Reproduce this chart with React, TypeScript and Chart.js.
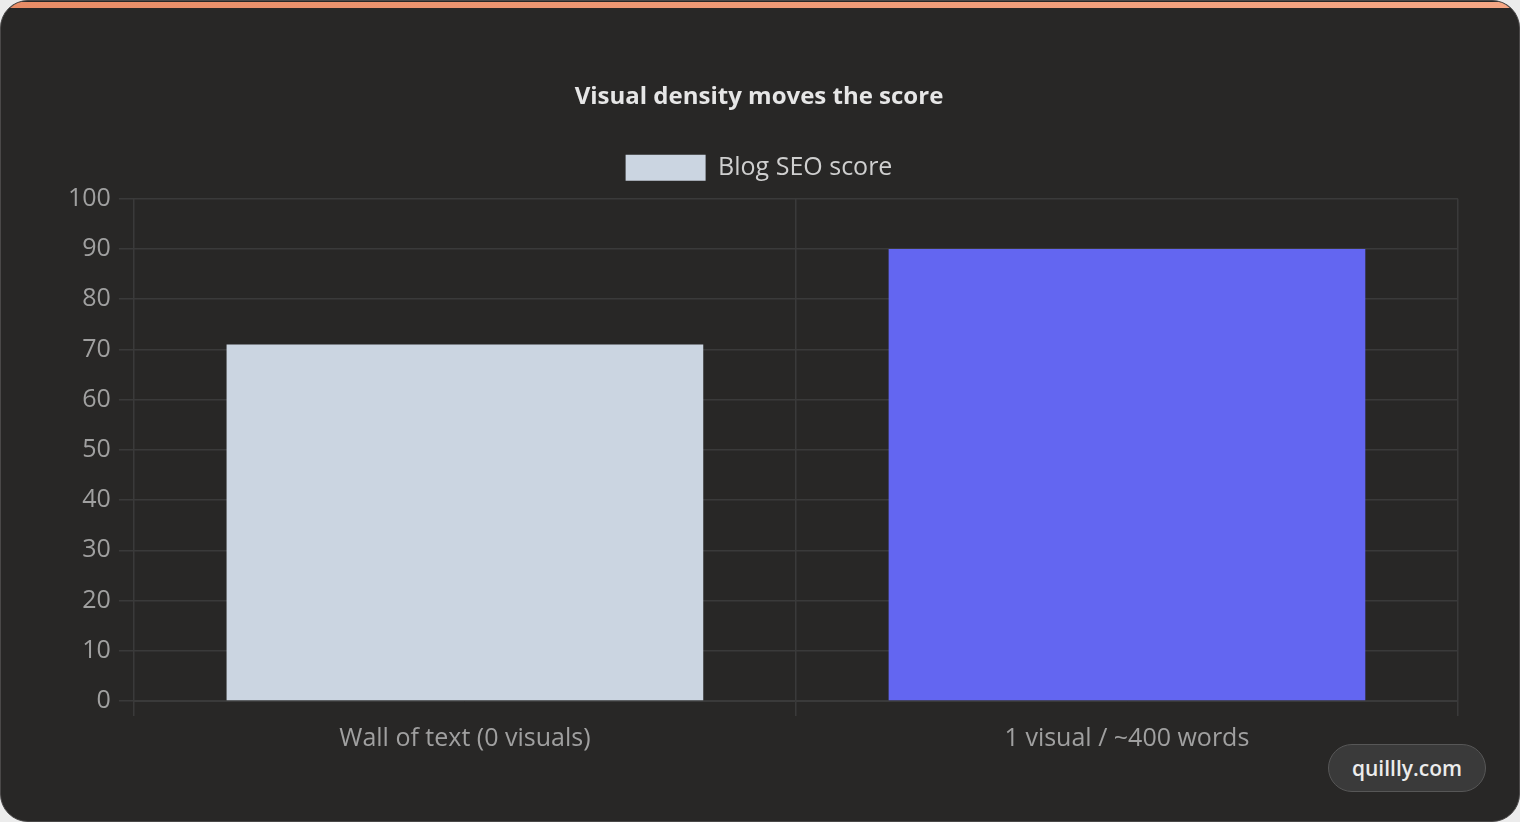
import React, { useEffect, useRef } from "react";
import { Chart, registerables } from "chart.js";

Chart.register(...registerables);

const categories = ["Wall of text (0 visuals)", "1 visual / ~400 words"];
const seoScores = [71, 90];
const barColors = ["#cbd5e1", "#6366f1"];
const seriesLabel = "Blog SEO score";
const chartTitle = "Visual density moves the score";
const badgeText = "quillly.com";

const FONT = "'Open Sans', 'Noto Sans', sans-serif";

const legendGap = {
  id: "legendGap",
  beforeInit(chart: any) {
    const legend = chart.legend;
    if (!legend) return;
    const origFit = legend.fit;
    legend.fit = function () {
      origFit.call(this);
      this.height += 8;
    };
  },
};

export default function App() {
  const canvasRef = useRef<HTMLCanvasElement | null>(null);

  useEffect(() => {
    document.body.style.margin = "0";
    document.body.style.background = "#ececec";
    const ctx = canvasRef.current;
    if (!ctx) return;
    const chart = new Chart(ctx, {
      type: "bar",
      data: {
        labels: categories,
        datasets: [
          {
            label: seriesLabel,
            data: seoScores,
            backgroundColor: barColors,
            borderWidth: 0,
          },
        ],
      },
      plugins: [legendGap],
      options: {
        animation: false,
        responsive: true,
        maintainAspectRatio: false,
        layout: { padding: { top: 72, left: 59, right: 63, bottom: 29 } },
        plugins: {
          title: {
            display: true,
            text: chartTitle,
            color: "#e6e6e6",
            font: { family: FONT, size: 24, weight: "bold" },
            padding: { top: 10, bottom: 23 },
          },
          legend: {
            display: true,
            labels: {
              color: "#cfcfcf",
              boxWidth: 80,
              boxHeight: 26,
              padding: 20,
              font: { family: FONT, size: 25 },
            },
          },
          tooltip: { enabled: false },
        },
        scales: {
          x: {
            grid: { color: "#3a3a3a", tickLength: 15, lineWidth: 1.5 },
            border: { color: "#3a3a3a" },
            ticks: { color: "#a0a0a0", font: { family: FONT, size: 25 }, padding: 8 },
          },
          y: {
            min: 0,
            max: 100,
            ticks: { stepSize: 10, color: "#a0a0a0", font: { family: FONT, size: 25 }, padding: 8 },
            grid: { color: "#3a3a3a", tickLength: 15, lineWidth: 1.5 },
            border: { color: "#3a3a3a" },
          },
        },
      },
    });
    return () => chart.destroy();
  }, []);

  return (
    <div style={{ position: "relative", width: 1520, height: 822, overflow: "hidden", background: "#ececec" }}>
      <div
        style={{
          position: "absolute",
          left: 0,
          top: 0,
          width: 1520,
          height: 822,
          boxSizing: "border-box",
          borderRadius: 28,
          border: "1.5px solid #4a4848",
          background: "#282726",
          overflow: "hidden",
        }}
      >
        <div
          style={{
            position: "absolute",
            left: 0,
            top: 1,
            width: "100%",
            height: 6,
            background: "linear-gradient(90deg, #e88c66, #f6a785)",
          }}
        />
        <div style={{ position: "absolute", left: 0, top: 0, width: 1520, height: 790 }}>
          <canvas ref={canvasRef} />
        </div>
        <div
          style={{
            position: "absolute",
            left: 1327,
            top: 743,
            width: 158,
            height: 48,
            boxSizing: "border-box",
            borderRadius: 24,
            border: "1.5px solid #575757",
            background: "#3a3a3a",
            color: "#ececec",
            fontFamily: FONT,
            fontSize: 21,
            fontWeight: 600,
            display: "flex",
            alignItems: "center",
            justifyContent: "center",
          }}
        >
          {badgeText}
        </div>
      </div>
    </div>
  );
}
